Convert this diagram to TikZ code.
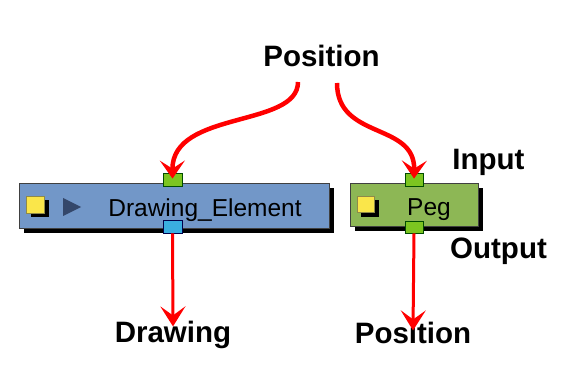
\documentclass[tikz,border=0pt]{standalone}
\usepackage{fontspec}
\setmainfont{Liberation Sans}
\usetikzlibrary{arrows.meta}
\definecolor{debox}{HTML}{7297C8}
\definecolor{pegbox}{HTML}{8DB755}
\definecolor{portgreen}{HTML}{7CC520}
\definecolor{portblue}{HTML}{3AAEE0}
\definecolor{yel}{HTML}{FAE64A}
\definecolor{tri}{HTML}{34476A}
\definecolor{redarrow}{HTML}{FF0000}
\tikzset{
  nodebox/.style={draw=black!75, line width=0.9pt, inner sep=0pt, minimum height=45pt},
  shadowbox/.style={fill=black, inner sep=0pt, minimum height=45pt},
  port/.style={draw=black!70!green, line width=0.8pt, fill=portgreen, inner sep=0pt, minimum width=19pt, minimum height=13pt},
  bport/.style={port, draw=black!70!blue, fill=portblue},
  label/.style={font=\fontsize{29.5}{30}\bfseries\selectfont, anchor=base, inner sep=0pt},
  boxtext/.style={font=\fontsize{24.5}{25}\selectfont, anchor=base, inner sep=0pt},
  yellowsq/.style={draw=black!50!yellow, line width=0.8pt, fill=yel, inner sep=0pt, minimum width=18pt, minimum height=17pt},
  sqshadow/.style={fill=black, inner sep=0pt, minimum width=18pt, minimum height=17pt},
  curvearrow/.style={draw=redarrow, line width=4.5pt, -{Stealth[length=18pt,width=25pt,inset=8pt]}},
  straightarrow/.style={draw=redarrow, line width=3pt, -{Stealth[length=20pt,width=25pt,inset=9pt]}}
}
\begin{document}
\begin{tikzpicture}[x=1pt,y=-1pt]
\useasboundingbox (0,0) rectangle (564,387);
% shadows
\node[shadowbox, minimum width=310pt] (deshadow) at (179,210.5) {};
\node[shadowbox, minimum width=128pt, minimum height=43pt] (pegshadow) at (419,209.5) {};
% boxes
\node[nodebox, fill=debox, minimum width=310pt] (de) at (174,205.5) {};
\node[nodebox, fill=pegbox, minimum width=128pt, minimum height=43pt] (peg) at (414,204.5) {};
% icons
\node[sqshadow] (desqs) at (39.5,208.5) {};
\node[yellowsq] (desq) at (35,204.5) {};
\node[sqshadow] (pegsqs) at (370,208.5) {};
\node[yellowsq, minimum width=17pt, minimum height=16pt] (pegsq) at (366,204) {};
\fill[tri] (63,198) -- (81,207) -- (63,216) -- cycle;
% texts in boxes
\node[boxtext] (detext) at (205,216) {Drawing\_Element};
\node[boxtext] (pegtext) at (429,215) {Peg};
% ports
\node[port] (detop) at (172.5,179.5) {};
\node[bport] (debot) at (172.5,226.5) {};
\node[port, minimum width=18pt] (pegtop) at (414,179.5) {};
\node[port, minimum width=18pt, minimum height=12pt] (pegbot) at (414,227) {};
% labels
\node[label] (postop) at (321.5,67) {Position};
\node[label] (input) at (488.5,170) {Input};
\node[label] (output) at (498.5,258) {Output};
\node[label] (drawing) at (173,342) {Drawing};
\node[label] (posbot) at (413,343) {Position};
% arrows
\coordinate (lstart) at (298,82);
\coordinate (rstart) at (337,83);
\path[curvearrow] (lstart) .. controls (298,128) and (172,110) .. ([yshift=-6pt]detop.north);
\path[curvearrow] (rstart) .. controls (337,140) and (415,122) .. ([yshift=-6pt]pegtop.north);
\path[straightarrow] (debot.south) -- ([yshift=-6pt]drawing.north);
\path[straightarrow] (pegbot.south) -- ([yshift=-9pt]posbot.north);
\end{tikzpicture}
\end{document}
